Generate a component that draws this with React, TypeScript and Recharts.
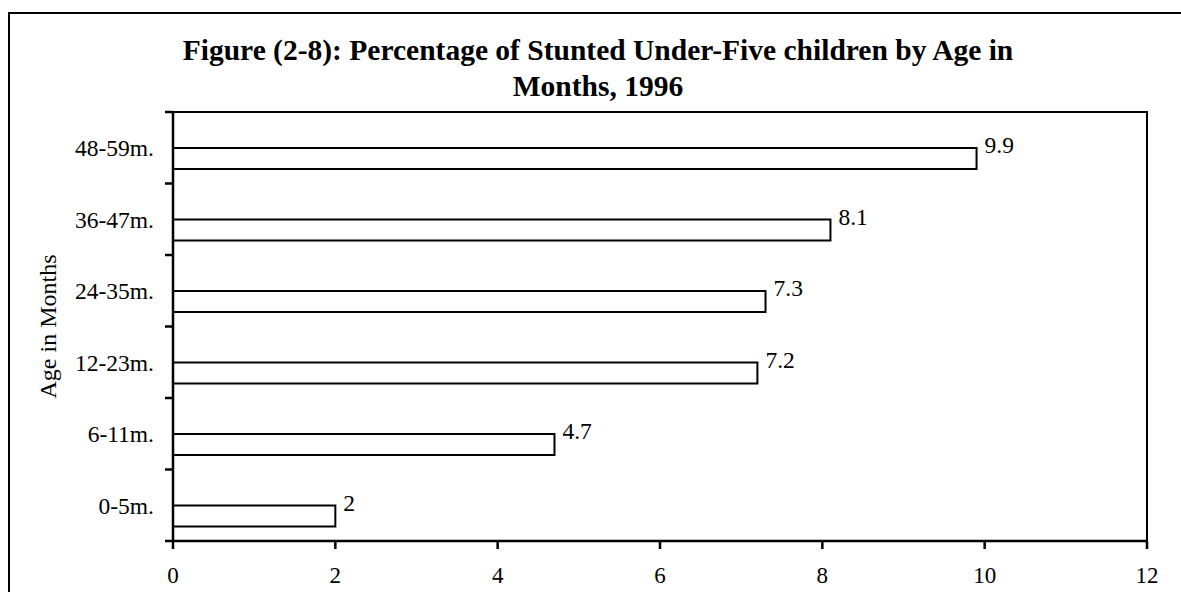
import { BarChart, Bar, XAxis, YAxis, ReferenceArea, LabelList, Label } from 'recharts';

// categories, top to bottom as drawn
const AGE_GROUPS = ['48-59m.', '36-47m.', '24-35m.', '12-23m.', '6-11m.', '0-5m.'];
const STUNTED_PCT = [9.9, 8.1, 7.3, 7.2, 4.7, 2];
const X_TICKS = [0, 2, 4, 6, 8, 10, 12];

const data = AGE_GROUPS.map((age, i) => ({ age, pct: STUNTED_PCT[i] }));

const W = 1181;
const H = 592;
const MARGIN = { top: 112, right: 34, bottom: 11, left: 33 };
const X_AXIS_H = 40;
const TICK_SIZE = 8;
const Y_TICK_MARGIN = 11;
const BAND = (H - MARGIN.top - MARGIN.bottom - X_AXIS_H) / AGE_GROUPS.length;
const FONT = '"Liberation Serif", "Times New Roman", serif';

// Excel-style category ticks: marks sit between the categories, not on them
function AgeTick({ x, y, payload, index }: any) {
  const axisX = x + TICK_SIZE + Y_TICK_MARGIN;
  const half = BAND / 2;
  return (
    <g>
      <line x1={axisX - TICK_SIZE} x2={axisX} y1={y + half} y2={y + half} stroke="#000" strokeWidth={2.5} />
      {index === 0 && (
        <line x1={axisX - TICK_SIZE} x2={axisX} y1={y - half} y2={y - half} stroke="#000" strokeWidth={2.5} />
      )}
      <text x={x} y={y} dy="0.355em" textAnchor="end" fontSize={23.5} fill="#000" fontFamily={FONT}>
        {payload.value}
      </text>
    </g>
  );
}

function ValueLabel({ x, y, width, value }: any) {
  return (
    <text x={x + width + 8} y={y - 3} dy="0.355em" fontSize={23.5} fill="#000" fontFamily={FONT}>
      {value}
    </text>
  );
}

function AxisTitle({ viewBox }: any) {
  const cx = viewBox.x + 14.5;
  const cy = viewBox.y + viewBox.height / 2;
  return (
    <text
      x={cx}
      y={cy}
      dy="0.355em"
      textAnchor="middle"
      transform={`rotate(-90, ${cx}, ${cy})`}
      fontSize={24}
      fill="#000"
      fontFamily={FONT}
    >
      Age in Months
    </text>
  );
}

export default function App() {
  return (
    <div
      style={{
        position: 'absolute',
        left: 0,
        top: 0,
        width: W,
        height: H,
        overflow: 'hidden',
        background: '#fff',
        fontFamily: FONT,
      }}
    >
      {/* chart area frame, runs past the right and bottom edges */}
      <div
        style={{
          position: 'absolute',
          left: 8,
          top: 12,
          width: 2000,
          height: 2000,
          border: '2px solid #000',
        }}
      />
      <div
        style={{
          position: 'absolute',
          left: 9,
          top: 32,
          width: 1178,
          textAlign: 'center',
          fontWeight: 700,
          fontSize: 29.5,
          lineHeight: '36px',
          color: '#000',
        }}
      >
        Figure (2-8): Percentage of Stunted Under-Five children by Age in
        <br />
        Months, 1996
      </div>
      <div style={{ position: 'absolute', left: 0, top: 0 }}>
        <BarChart width={W} height={H} data={data} layout="vertical" margin={MARGIN} barGap={0}>
          <XAxis
            type="number"
            domain={[0, 12]}
            ticks={X_TICKS}
            height={X_AXIS_H}
            tickSize={TICK_SIZE}
            tickMargin={18}
            axisLine={{ stroke: '#000', strokeWidth: 2.5 }}
            tickLine={{ stroke: '#000', strokeWidth: 2.5 }}
            tick={{ fill: '#000', fontSize: 23, fontFamily: FONT }}
          />
          <YAxis
            type="category"
            dataKey="age"
            width={140}
            tickSize={TICK_SIZE}
            tickMargin={Y_TICK_MARGIN}
            tickLine={false}
            axisLine={{ stroke: '#000', strokeWidth: 2.5 }}
            tick={<AgeTick />}
          >
            <Label content={<AxisTitle />} />
          </YAxis>
          <ReferenceArea x1={0} x2={12} fill="none" stroke="#000" strokeWidth={2} ifOverflow="visible" />
          {/* empty slot so the bar sits in the lower half of each band */}
          <Bar dataKey="spacer" barSize={21} fill="none" stroke="none" legendType="none" isAnimationActive={false} />
          <Bar dataKey="pct" barSize={21} fill="#fff" stroke="#000" strokeWidth={2} isAnimationActive={false}>
            <LabelList dataKey="pct" content={<ValueLabel />} />
          </Bar>
        </BarChart>
      </div>
    </div>
  );
}
